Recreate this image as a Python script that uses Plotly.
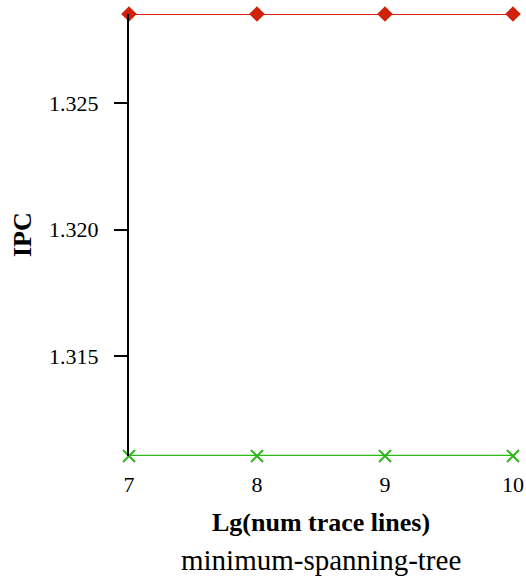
import plotly.graph_objects as go

# Lg(number of trace lines) on the x axis
lg_lines = [7, 8, 9, 10]

# IPC per configuration
ipc_upper = [1.32852, 1.32852, 1.32852, 1.32852]
ipc_lower = [1.31105, 1.31105, 1.31105, 1.31105]

y_ticks = [1.315, 1.320, 1.325]
y_tick_text = ["1.315", "1.320", "1.325"]

serif = "Liberation Serif"

fig = go.Figure()
fig.add_trace(go.Scatter(
    x=lg_lines, y=ipc_upper, mode="lines+markers",
    line=dict(color="#d0220a", width=2),
    marker=dict(symbol="diamond", size=12, color="#d0220a"),
    cliponaxis=False, showlegend=False,
))
fig.add_trace(go.Scatter(
    x=lg_lines, y=ipc_lower, mode="lines+markers",
    line=dict(color="#2eb81a", width=2.5),
    marker=dict(symbol="x-thin", size=12, color="#2eb81a",
                line=dict(width=2, color="#2eb81a")),
    cliponaxis=False, showlegend=False,
))

fig.update_layout(
    width=526, height=584,
    margin=dict(l=129, r=13, t=14, b=128),
    paper_bgcolor="white", plot_bgcolor="white",
    font=dict(family=serif, size=22, color="black"),
    xaxis=dict(
        range=[7, 10], tickvals=lg_lines, ticktext=[str(v) for v in lg_lines],
        showgrid=False, zeroline=False, showline=False, ticks="",
        tickfont=dict(family=serif, size=22), ticklabelstandoff=13,
        automargin=False,
    ),
    yaxis=dict(
        range=[ipc_lower[0], ipc_upper[0]], tickvals=y_ticks, ticktext=y_tick_text,
        showgrid=False, zeroline=False, showline=True, linecolor="black", linewidth=2,
        ticks="outside", ticklen=13, tickwidth=2, tickcolor="black",
        tickfont=dict(family=serif, size=22), ticklabelstandoff=11,
        automargin=False,
    ),
    annotations=[
        dict(text="<b>IPC</b>", xref="paper", yref="paper",
             x=0, xshift=-107, y=0.5, xanchor="center", yanchor="middle",
             textangle=-90, showarrow=False, font=dict(family=serif, size=26)),
        dict(text="<b>Lg(num trace lines)</b>", xref="paper", yref="paper",
             x=0.5, y=0, yshift=-66, yanchor="middle", showarrow=False,
             font=dict(family=serif, size=26)),
        dict(text="minimum-spanning-tree", xref="paper", yref="paper",
             x=0.5, y=0, yshift=-104, yanchor="middle", showarrow=False,
             font=dict(family=serif, size=29)),
    ],
)

fig.write_html("out.html")
